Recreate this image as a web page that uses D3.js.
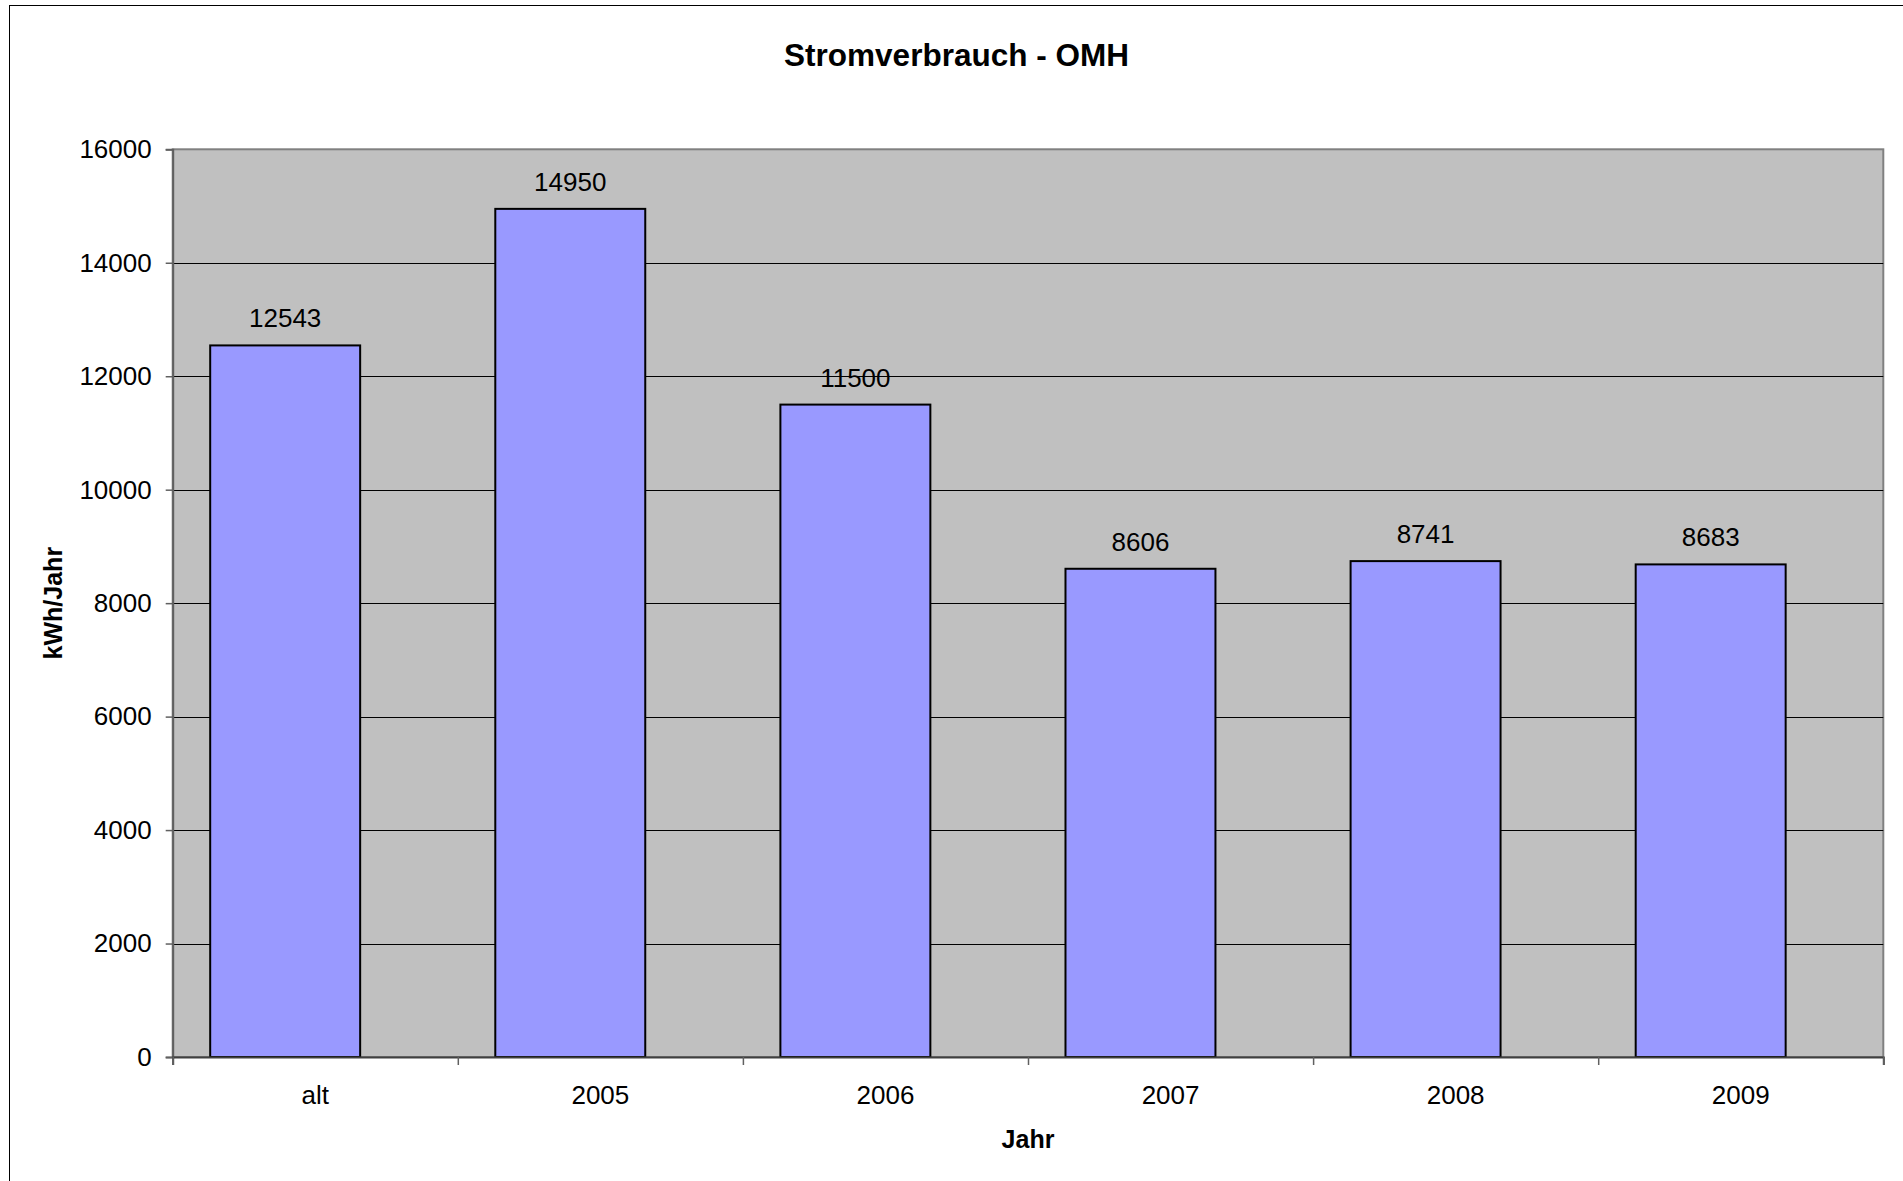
<!DOCTYPE html>
<html>
<head>
<meta charset="utf-8">
<script src="https://cdn.jsdelivr.net/npm/d3@7"></script>
<style>
  html, body { margin: 0; padding: 0; background: #fff; overflow: hidden; }
  svg { display: block; font-family: "Liberation Sans", Arial, sans-serif; }
</style>
</head>
<body>
<svg id="chart" width="1903" height="1181"></svg>
<script>
// ---- Data ----
const categories = ["alt", "2005", "2006", "2007", "2008", "2009"];
const values = [12543, 14950, 11500, 8606, 8741, 8683];
const yTicks = [0, 2000, 4000, 6000, 8000, 10000, 12000, 14000, 16000];
const chartTitle = "Stromverbrauch - OMH";
const xTitle = "Jahr";
const yTitle = "kWh/Jahr";

// ---- Layout ----
const W = 1903, H = 1181;
const plot = { left: 172.7, right: 1883.3, top: 149.3, bottom: 1057 };
const labelSize = 26;

const svg = d3.select("#chart");

// outer chart border (extends beyond the visible frame on right/bottom)
svg.append("rect")
  .attr("x", 9.5).attr("y", 5.5)
  .attr("width", 1900).attr("height", 1200)
  .attr("fill", "#fff").attr("stroke", "#000").attr("stroke-width", 1);

const x = d3.scaleBand().domain(categories).range([plot.left, plot.right]).paddingInner(0).paddingOuter(0);
const xEdge = d3.scaleLinear().domain([0, categories.length]).range([plot.left, plot.right]);
const y = d3.scaleLinear().domain([0, 16000]).range([plot.bottom, plot.top]);

// plot area
svg.append("rect")
  .attr("x", plot.left).attr("y", plot.top)
  .attr("width", plot.right - plot.left).attr("height", plot.bottom - plot.top)
  .attr("fill", "#C0C0C0").attr("stroke", "#808080").attr("stroke-width", 2);

// gridlines
svg.append("g").selectAll("line")
  .data(yTicks.filter(t => t > 0 && t < 16000))
  .join("line")
  .attr("x1", plot.left).attr("x2", plot.right)
  .attr("y1", d => Math.round(y(d)) + 0.5).attr("y2", d => Math.round(y(d)) + 0.5)
  .attr("stroke", "#000").attr("stroke-width", 1);

// bars
const barOffset = 0.1315, barFrac = 0.526;
svg.append("g").selectAll("rect")
  .data(categories.map((c, i) => ({ c, v: values[i] })))
  .join("rect")
  .attr("x", d => x(d.c) + x.bandwidth() * barOffset)
  .attr("width", x.bandwidth() * barFrac)
  .attr("y", d => y(d.v))
  .attr("height", d => y(0) - y(d.v))
  .attr("fill", "#9999FF").attr("stroke", "#000").attr("stroke-width", 2);

// value labels
svg.append("g").selectAll("text")
  .data(categories.map((c, i) => ({ c, v: values[i] })))
  .join("text")
  .attr("x", d => x(d.c) + x.bandwidth() * (barOffset + barFrac / 2))
  .attr("y", d => y(d.v) - 18)
  .attr("text-anchor", "middle")
  .attr("font-size", labelSize)
  .attr("fill", "#000")
  .text(d => d.v);

// y axis
const yAxis = svg.append("g")
  .attr("transform", `translate(${plot.left},0)`)
  .call(d3.axisLeft(y).tickValues(yTicks).tickSize(7).tickPadding(14).tickFormat(d3.format("d")));
yAxis.select(".domain").attr("stroke", "#606060").attr("stroke-width", 2);
yAxis.selectAll(".tick line").attr("stroke", "#606060").attr("stroke-width", 1.5);
yAxis.selectAll(".tick text").attr("font-size", labelSize).attr("fill", "#000")
  .attr("font-family", "Liberation Sans, Arial, sans-serif");

// x axis (ticks at category boundaries)
const xAxis = svg.append("g")
  .attr("transform", `translate(0,${plot.bottom})`)
  .call(d3.axisBottom(xEdge).tickValues(d3.range(categories.length + 1)).tickSize(8).tickFormat(""));
xAxis.select(".domain").attr("stroke", "#404040").attr("stroke-width", 2);
xAxis.selectAll(".tick line").attr("stroke", "#606060").attr("stroke-width", 1.5);

// category labels
svg.append("g").selectAll("text")
  .data(categories)
  .join("text")
  .attr("x", d => x(d) + x.bandwidth() / 2)
  .attr("y", 1103.5)
  .attr("text-anchor", "middle")
  .attr("font-size", labelSize)
  .attr("fill", "#000")
  .text(d => d);

// title
svg.append("text")
  .attr("x", 956.5).attr("y", 66)
  .attr("text-anchor", "middle")
  .attr("font-size", 31.5).attr("font-weight", "bold")
  .text(chartTitle);

// axis titles
svg.append("text")
  .attr("x", (plot.left + plot.right) / 2).attr("y", 1147.5)
  .attr("text-anchor", "middle")
  .attr("font-size", 25).attr("font-weight", "bold")
  .text(xTitle);

svg.append("text")
  .attr("transform", `translate(61.5,${(plot.top + plot.bottom) / 2}) rotate(-90)`)
  .attr("text-anchor", "middle")
  .attr("font-size", 25).attr("font-weight", "bold")
  .text(yTitle);
</script>
</body>
</html>
